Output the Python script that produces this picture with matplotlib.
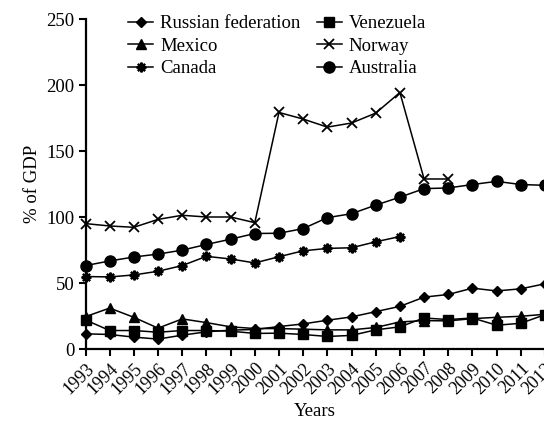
import matplotlib
matplotlib.use("Agg")
import matplotlib.pyplot as plt

years = list(range(1993, 2013))

russia = [11.5, 11.0, 9.0, 7.5, 10.5, 13.0, 14.3, 14.8, 17.0, 19.0, 21.8, 24.3, 28.3, 32.3, 39.3, 41.3, 46.1, 44.0, 45.6, 49.4]
mexico = [24.5, 31.0, 24.0, 15.8, 22.8, 20.0, 16.8, 15.5, 15.5, 15.0, 14.5, 14.5, 16.3, 20.5, 21.5, 21.3, 23.0, 24.0, 24.8, 26.3]
canada = [54.9, 54.6, 56.1, 58.9, 63.2, 70.2, 68.2, 65.2, 69.9, 74.4, 76.2, 76.7, 81.2, 85.2]
venezuela = [22.0, 14.0, 14.0, 12.7, 14.0, 14.0, 13.5, 11.8, 12.0, 11.0, 9.5, 10.3, 14.5, 16.8, 23.5, 22.3, 23.5, 18.0, 19.5, 26.0]
norway = [95.0, 93.2, 92.2, 98.2, 101.3, 100.0, 100.0, 95.7, 179.2, 174.2, 168.1, 171.2, 178.7, 194.3, 128.8, 128.8]
australia = [63.2, 66.7, 69.7, 71.9, 74.9, 79.2, 83.2, 87.5, 87.7, 91.2, 99.5, 102.5, 109.0, 115.0, 121.5, 122.0, 124.6, 127.0, 124.6, 124.0]

series = [
    ("Russian federation", russia, dict(marker="D", ms=5.5)),
    ("Mexico", mexico, dict(marker="^", ms=7.5)),
    ("Canada", canada, dict(marker=(8, 2, 0), ms=7, mew=1.6)),
    ("Venezuela", venezuela, dict(marker="s", ms=7.5)),
    ("Norway", norway, dict(marker="x", ms=7.5, mew=1.3)),
    ("Australia", australia, dict(marker="o", ms=8)),
]

plt.rcParams['font.family'] = ['Liberation Serif', 'DejaVu Serif']

fig = plt.figure(figsize=(5.44, 4.21), dpi=100)
ax = fig.add_axes([85.5/544, (421-349)/421, (545-85.5)/544, (349-19)/421])

for name, vals, st in series:
    ax.plot(years[:len(vals)], vals, color="black", lw=1.1, label=name,
            clip_on=False, zorder=3, **st)

ax.set_xlim(1993, 2012)
ax.set_ylim(0, 250)
ax.set_yticks([0, 50, 100, 150, 200, 250])
ax.set_xticks(years)
ax.set_xticklabels([str(y) for y in years], rotation=45, ha="right", rotation_mode="anchor")
ax.tick_params(axis="both", width=1.5, length=5, direction="out", pad=3)
ax.tick_params(axis="x", labelsize=13)
ax.tick_params(axis="y", labelsize=13.5)
for s in ["top", "right"]:
    ax.spines[s].set_visible(False)
for s in ["left", "bottom"]:
    ax.spines[s].set_linewidth(1.6)

ax.set_xlabel("Years", fontsize=13.5, labelpad=4)
ax.set_ylabel("% of GDP", fontsize=13.5, labelpad=4)

leg = ax.legend(ncol=2, frameon=False, fontsize=13.5, loc="upper left",
                bbox_to_anchor=(128/544, 1 - 15/421), bbox_transform=fig.transFigure,
                handlelength=1.35, handletextpad=0.37, labelspacing=0.29,
                columnspacing=0.85, borderaxespad=0, borderpad=0)

fig.savefig("out.png", dpi=100)
